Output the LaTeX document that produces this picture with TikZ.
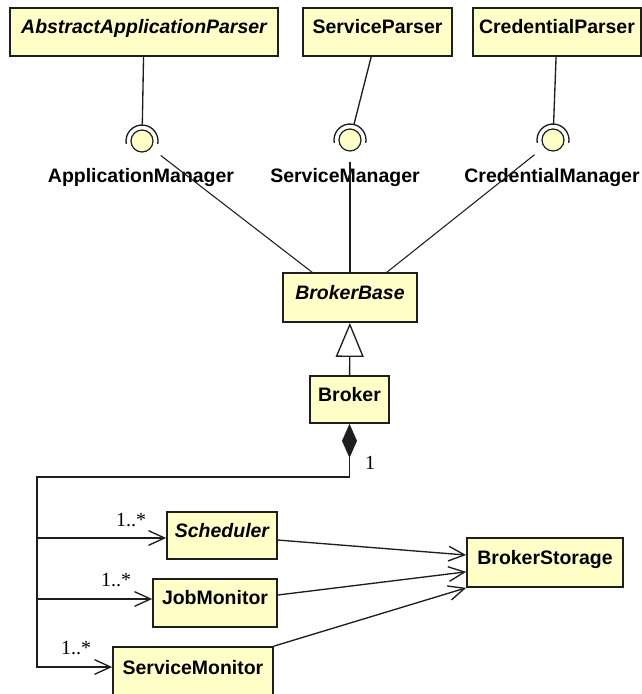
\documentclass[tikz,border=0pt]{standalone}
\usepackage{fontspec}
\setmainfont{Liberation Sans}
\newfontfamily\multfont{Liberation Serif}
\usetikzlibrary{arrows.meta}
\definecolor{clsfill}{RGB}{255,255,200}
\definecolor{ink}{RGB}{30,30,30}
\begin{document}
\begin{tikzpicture}[x=0.75pt,y=-0.75pt,
  cls/.style={draw=ink, line width=1.3pt, fill=clsfill, rectangle, inner sep=0pt,
    font=\fontsize{14.6pt}{16pt}\selectfont\bfseries, text height=10.5pt, text depth=7.6pt},
  abs/.style={font=\fontsize{14.6pt}{16pt}\selectfont\bfseries\itshape},
  lbl/.style={inner sep=0pt, font=\fontsize{14.6pt}{16pt}\selectfont\bfseries},
  mult/.style={inner sep=0pt, font=\multfont\fontsize{15pt}{17pt}\selectfont},
  ball/.style={circle, draw=ink, line width=0.9pt, fill=clsfill, minimum size=16.5pt, inner sep=0pt},
  socket/.style={circle, minimum size=24pt, inner sep=0pt},
  conn/.style={draw=ink, line width=1pt},
  thinconn/.style={draw=ink, line width=0.8pt},
  barb/.style={-{Straight Barb[length=12pt,width=11pt]}}
]
\fill[white] (0,0) rectangle (642,694);
\useasboundingbox (0,0) rectangle (642,694);
\clip (0,0) rectangle (642,694);

% top classes
\node[cls, abs, minimum width=201pt, minimum height=36pt] (aap) at (144,32) {AbstractApplicationParser};
\node[cls, minimum width=111.75pt, minimum height=36pt] (sp) at (377.5,32) {ServiceParser};
\node[cls, minimum width=126pt, minimum height=36pt] (cp) at (557,32) {CredentialParser};

% lollipops
\node[ball] (b1) at (142,141) {};
\node[socket] (s1) at (142,141) {};
\node[ball] (b2) at (350,140) {};
\node[socket] (s2) at (350,140) {};
\node[ball] (b3) at (553,140) {};
\node[socket] (s3) at (553,140) {};
\foreach \s in {s1,s2,s3}{
  \draw[conn] ([shift={(-10:12pt)}]\s.center) arc[start angle=-10, end angle=190, radius=12pt];
}
\draw[conn] (s1) -- (aap);
\draw[conn] (s2) -- (sp);
\draw[conn] (s3) -- (cp);

% interface labels
\node[lbl] (am) at (141,178) {ApplicationManager};
\node[lbl] (sm2) at (345,178) {ServiceManager};
\node[lbl] (cm) at (552,178) {CredentialManager};

% BrokerBase and Broker
\node[cls, abs, minimum width=100.5pt, minimum height=36.75pt] (bb) at (350,297.5) {BrokerBase};
\node[cls, minimum width=59.25pt, minimum height=35.25pt] (broker) at (349.5,399.5) {Broker};

\draw[thinconn, shorten <=9pt] (b1) -- ([xshift=-28.5pt]bb.north);
\draw[thinconn, shorten <=8pt] (b2) -- (bb.north);
\draw[thinconn, shorten <=9pt] (b3) -- ([xshift=27.75pt]bb.north);

\draw[conn, -{Triangle[open, length=25.5pt, width=21pt]}] (broker) -- (bb);

% parts
\node[cls, abs, minimum width=82.5pt, minimum height=35.25pt] (sched) at (222,535.5) {Scheduler};
\node[cls, minimum width=93pt, minimum height=36pt] (jm) at (215,603) {JobMonitor};
\node[cls, minimum width=120pt, minimum height=38.25pt] (svm) at (193,672.5) {ServiceMonitor};
\node[cls, minimum width=117pt, minimum height=36.75pt] (bs) at (545,562.5) {BrokerStorage};

\coordinate (k2) at (37,477);
\coordinate (r1) at (37,538);
\coordinate (r2) at (37,599);
\coordinate (r3) at (37,667);

\draw[conn, {Diamond[length=25.5pt,width=11.25pt]}-{Straight Barb[length=12pt,width=11pt]}]
  (broker.south) -- (broker.south |- k2) -- (k2) -- (r3) -- (svm.west |- r3);
\draw[conn, barb] (r1) -- (sched.west |- r1);
\draw[conn, barb] (r2) -- (jm.west |- r2);

\node[mult] (m0) at (370,463) {1};
\node[mult] (m1) at (131,520) {1..*};
\node[mult] (m2) at (116,580) {1..*};
\node[mult] (m3) at (76,648) {1..*};

% dependencies to BrokerStorage
\draw[conn, barb] ([yshift=-3.4pt]sched.east) -- ([yshift=5.6pt]bs.west);
\draw[conn, barb] ([yshift=6pt]jm.east) -- ([yshift=-7pt]bs.west);
\draw[conn, barb] (svm.north east) -- (bs.south west);
\end{tikzpicture}
\end{document}
